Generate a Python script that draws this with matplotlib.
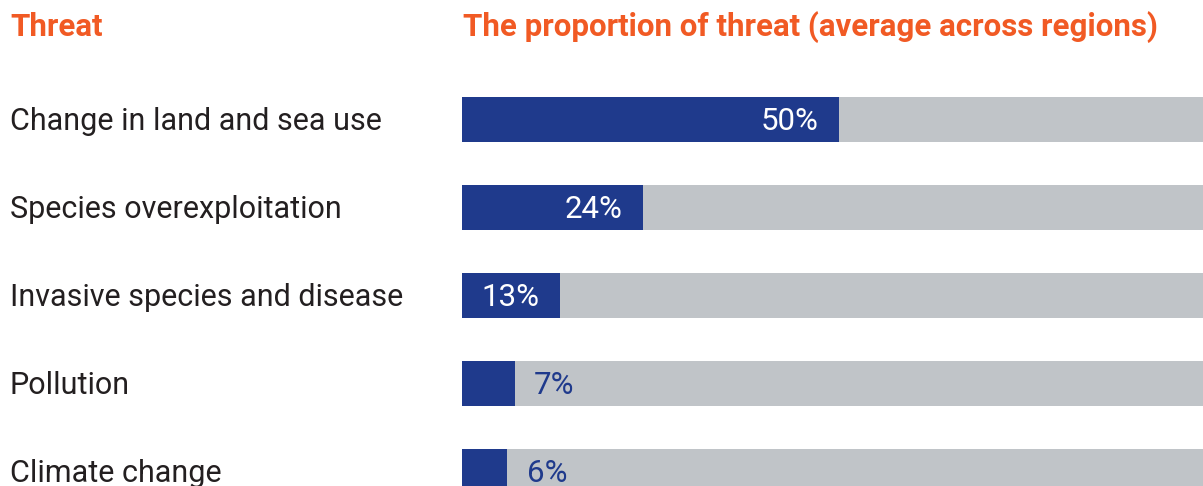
import matplotlib
matplotlib.use("Agg")
import matplotlib.pyplot as plt
from matplotlib import transforms

# data
THREATS = ["Change in land and sea use", "Species overexploitation",
           "Invasive species and disease", "Pollution", "Climate change"]
SHARE = [50, 24, 13, 7, 6]

NAVY = "#1f3a8c"
GREY = "#c0c4c8"
ORANGE = "#f15a24"
TEXT = "#231f20"

plt.rcParams["font.family"] = ["Roboto", "DejaVu Sans"]

W, H = 1203, 486
fig = plt.figure(figsize=(W / 100, H / 100), dpi=100)
x0 = 462 / W
ax = fig.add_axes([x0, 0, 1 - x0, 1])

pitch = 88.0          # px between bar centres
first = 119.5         # px from top to first bar centre
ax.set_ylim((H - first) / pitch, -first / pitch)
ax.set_xlim(0, (W - 462) / 754 * 100)
ax.set_axis_off()

ys = list(range(len(THREATS)))
ax.barh(ys, [100] * len(ys), height=45 / pitch, color=GREY, left=0)
ax.barh(ys, SHARE, height=45 / pitch, color=NAVY)

for y, v in zip(ys, SHARE):
    if v >= 10:
        ax.annotate(f"{v}%", (v, y), xytext=(-15, -1.5), textcoords="offset points",
                    ha="right", va="center", color="white", fontsize=22.5)
    else:
        ax.annotate(f"{v}%", (v, y), xytext=(14, -1.5), textcoords="offset points",
                    ha="left", va="center", color=NAVY, fontsize=22.5)

lab_tr = transforms.blended_transform_factory(fig.transFigure, ax.transData)
for y, name in zip(ys, THREATS):
    ax.annotate(name, (10 / W, y), xycoords=lab_tr, xytext=(0, -1.5),
                textcoords="offset points", ha="left", va="center",
                color=TEXT, fontsize=22, annotation_clip=False)

fig.text(10 / W, 1 - 27 / H, "Threat", color=ORANGE, fontsize=22.5,
         fontweight="bold", ha="left", va="center")
fig.text(463 / W, 1 - 27 / H, "The proportion of threat (average across regions)",
         color=ORANGE, fontsize=22.5, fontweight="bold", ha="left", va="center")

fig.savefig("out.png", dpi=100)
